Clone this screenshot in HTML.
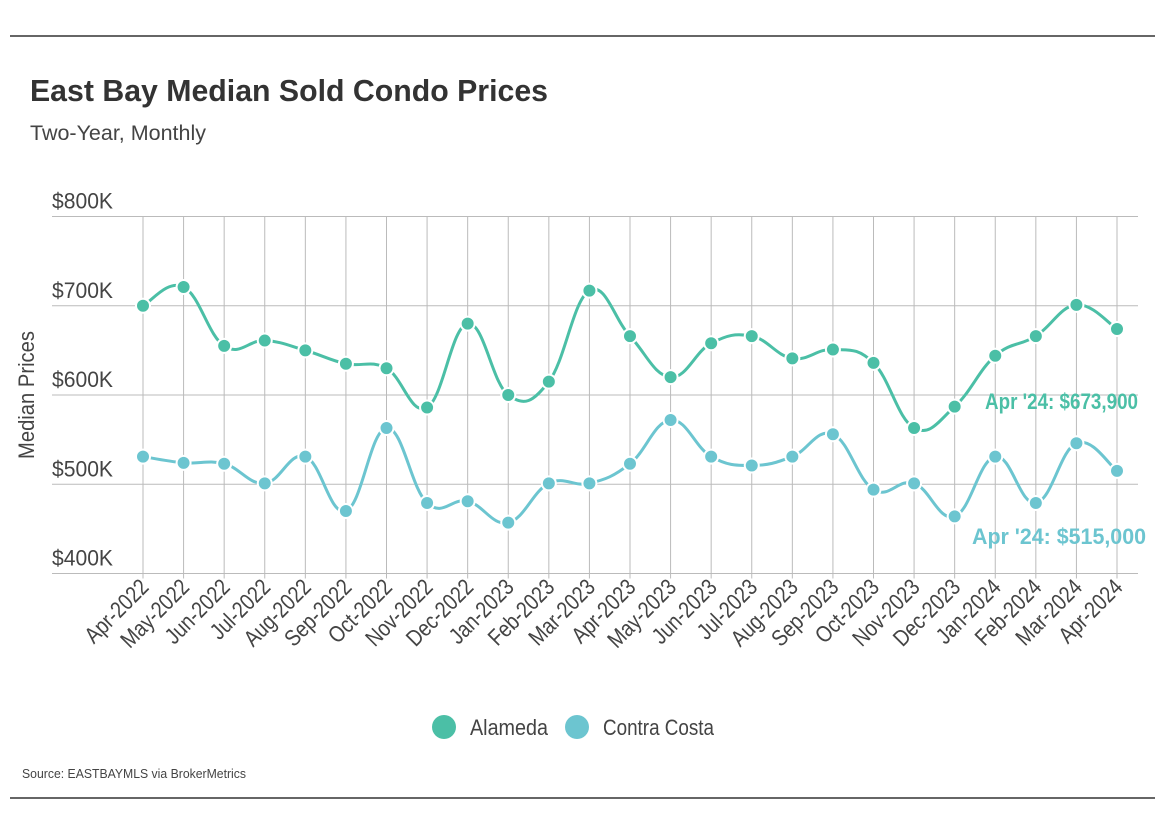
<!DOCTYPE html>
<html><head><meta charset="utf-8"><style>
body{margin:0;background:#fff;width:1175px;height:836px;overflow:hidden;font-family:"Liberation Sans Narrow","Liberation Sans",sans-serif;}
svg{position:absolute;left:0;top:0}
</style></head><body>
<svg id="chart" width="1175" height="836">
<line x1="10" y1="36" x2="1155" y2="36" stroke="#333" stroke-width="1.5"/>
<line x1="10" y1="798" x2="1155" y2="798" stroke="#333" stroke-width="1.5"/>
<text x="30" y="101" font-family="Liberation Sans, sans-serif" font-weight="bold" font-size="31" fill="#333" textLength="518" lengthAdjust="spacingAndGlyphs">East Bay Median Sold Condo Prices</text>
<text x="30" y="140" font-size="21" fill="#444" textLength="176" lengthAdjust="spacingAndGlyphs">Two-Year, Monthly</text>
<text transform="translate(34,395) rotate(-90)" text-anchor="middle" font-size="22" fill="#444" textLength="128" lengthAdjust="spacingAndGlyphs">Median Prices</text>
<g id="grid"></g><g id="series"></g>
<text x="985" y="409" font-weight="bold" font-size="22" fill="#4bbfa6" textLength="153" lengthAdjust="spacingAndGlyphs">Apr '24: $673,900</text>
<text x="972" y="544" font-weight="bold" font-size="22" fill="#6cc5d0" textLength="174" lengthAdjust="spacingAndGlyphs">Apr '24: $515,000</text>
<g>
<g><circle cx="444" cy="727" r="12" fill="#4bbfa6"/><text x="470" y="735" font-size="22" fill="#444" textLength="78" lengthAdjust="spacingAndGlyphs">Alameda</text></g>
<g><circle cx="577" cy="727" r="12" fill="#6cc5d0"/><text x="603" y="735" font-size="22" fill="#444" textLength="111" lengthAdjust="spacingAndGlyphs">Contra Costa</text></g>
</g>
<text x="22" y="778" font-size="13" fill="#444" textLength="224" lengthAdjust="spacingAndGlyphs">Source:  EASTBAYMLS via BrokerMetrics</text>
</svg>
<script>
const categories=["Apr-2022","May-2022","Jun-2022","Jul-2022","Aug-2022","Sep-2022","Oct-2022","Nov-2022","Dec-2022","Jan-2023","Feb-2023","Mar-2023","Apr-2023","May-2023","Jun-2023","Jul-2023","Aug-2023","Sep-2023","Oct-2023","Nov-2023","Dec-2023","Jan-2024","Feb-2024","Mar-2024","Apr-2024"];
const alameda=[700,721,655,661,650,635,630,586,680,600,615,717,666,620,658,666,641,651,636,563,587,644,666,701,673.9];
const contraCosta=[531,524,523,501,531,470,563,479,481,457,501,501,523,572,531,521,531,556,494,501,464,531,479,546,515];
const yTicks=[400,500,600,700,800];
const yTickLabels=["$400K","$500K","$600K","$700K","$800K"];
const NS="http://www.w3.org/2000/svg";
const x0=143,x1=1117,yTop=216.5,yBot=573.5,vMin=400,vMax=800;
function xs(i){return x0+(x1-x0)*i/(categories.length-1);}
function ys(v){return yBot-(v-vMin)/(vMax-vMin)*(yBot-yTop);}
function mk(tag,attrs,parent){const e=document.createElementNS(NS,tag);for(const k in attrs)e.setAttribute(k,attrs[k]);parent.appendChild(e);return e;}
const grid=document.getElementById('grid');
yTicks.forEach((t,i)=>{
 const l=mk('line',{x1:52,x2:1138,y1:ys(t),y2:ys(t),stroke:'#bbb','stroke-width':1},grid);
 
 
 const tx=mk('text',{x:52,y:ys(t)-8,'font-size':22,fill:'#444',textLength:61,lengthAdjust:'spacingAndGlyphs'},grid);
 tx.textContent=yTickLabels[i];
 
 
});
categories.forEach((c,i)=>{
 const x=xs(i);
 const l=mk('line',{x1:x,x2:x,y1:yTop,y2:yBot+5,stroke:'#bbb','stroke-width':1},grid);
 
 
 const t=mk('text',{transform:`translate(${x+7},${yBot+15}) rotate(-45) scale(0.84,1)`,'text-anchor':'end','font-size':23,fill:'#444'},grid);
 t.textContent=c;
 
 
});
function path(vals){
 const p=vals.map((v,i)=>[xs(i),ys(v)]);
 let d=`M${p[0][0]},${p[0][1]}`;
 for(let i=0;i<p.length-1;i++){
  const a=p[Math.max(0,i-1)],b=p[i],c=p[i+1],e=p[Math.min(p.length-1,i+2)];
  const t=0.2;
  d+=` C${b[0]+(c[0]-a[0])*t},${b[1]+(c[1]-a[1])*t} ${c[0]-(e[0]-b[0])*t},${c[1]-(e[1]-b[1])*t} ${c[0]},${c[1]}`;
 }
 return d;
}
const sg=document.getElementById('series');
[[alameda,'#4bbfa6','alameda'],[contraCosta,'#6cc5d0','contra-costa']].forEach(([vals,col,name])=>{
 const pl=mk('path',{d:path(vals),fill:'none',stroke:col,'stroke-width':3},sg);
 
 
 vals.forEach((v,i)=>{
  const c=mk('circle',{cx:xs(i),cy:ys(v),r:7,fill:col,stroke:'#fff','stroke-width':2},sg);
  
  
 });
});
</script>
</body></html>
